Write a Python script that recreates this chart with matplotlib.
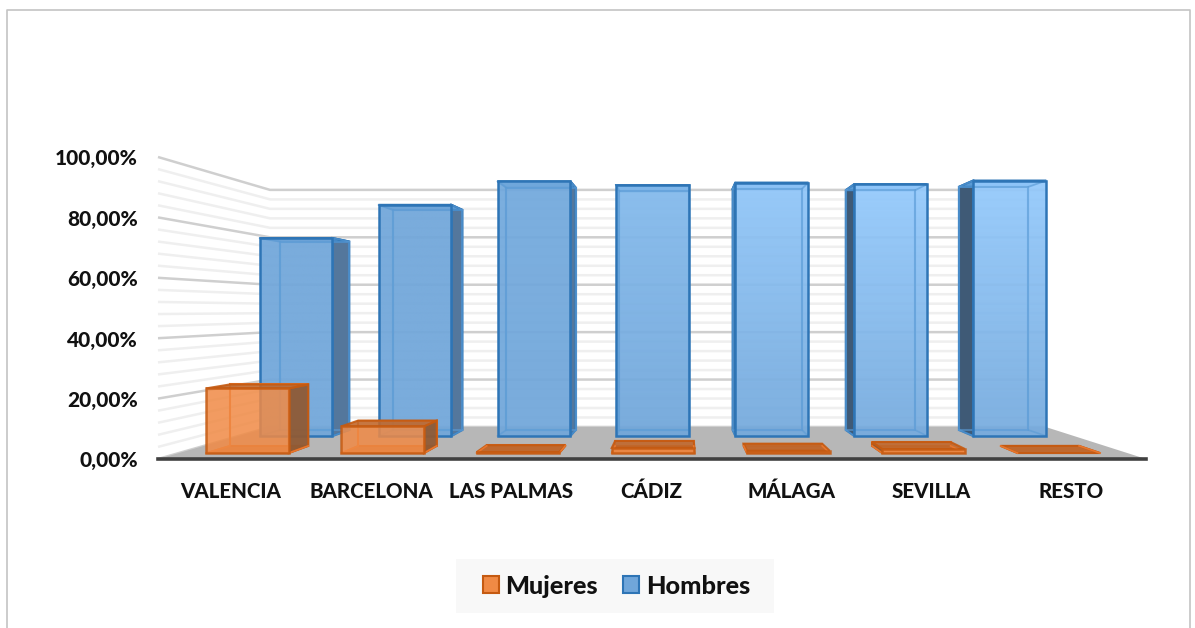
import matplotlib
matplotlib.use("Agg")
import matplotlib.pyplot as plt
from matplotlib.patches import Polygon, Rectangle, Patch
import numpy as np

plt.rcParams['font.family'] = ['Lato', 'DejaVu Sans']

categories = ["VALENCIA", "BARCELONA", "LAS PALMAS", "CÁDIZ", "MÁLAGA", "SEVILLA", "RESTO"]
hombres = [77.5, 90.5, 99.7, 98.2, 99.2, 98.6, 100.0]
mujeres = [22.3, 9.2, 0.3, 1.8, 0.8, 1.4, 0.0]
y_ticks = [0, 20, 40, 60, 80, 100]
y_labels = ["0,00%", "20,00%", "40,00%", "60,00%", "80,00%", "100,00%"]

# gradient of the blue fronts (top, bottom), lighter towards the right
blue_top = ["#70a6da", "#70a6da", "#72a9dd", "#82b9ec", "#90c6f9", "#93c9fc", "#93c9fc"]
blue_bottom = ["#70a6da", "#70a6da", "#70a6da", "#70a6da", "#74a9dc", "#76abde", "#76abde"]
blue_side = ["#54779c", "#54779c", "#54779c", "#54779c", "#3f5f80", "#3f5a76", "#3f5a76"]

# projection of the 3d box: vanishing point, floor and wall of the front plane
VX, VY = 679, 310
LEFT, RIGHT, BASE, TOP = 158, 1146, 459, 157
S_BACK = 0.785
SLOT = (RIGHT - LEFT) / len(categories)


def project(u, s, v):
    # u: pixels from the vanishing point at front plane, s: depth scale, v: percent
    front_y = BASE - (BASE - TOP) * v / 100
    return VX + u * s, VY + (front_y - VY) * s


def box(i, value, s_front, s_back, spread=1.0, shift=0.0, width=0.61):
    c = (LEFT + (i + 0.5) * SLOT - VX) * spread + shift
    ul, ur = c - width * SLOT / 2, c + width * SLOT / 2
    def face(*pts):
        return [project(*p) for p in pts]
    return {
        "back": face((ul, s_back, 0), (ur, s_back, 0), (ur, s_back, value), (ul, s_back, value)),
        "bottom": face((ul, s_front, 0), (ur, s_front, 0), (ur, s_back, 0), (ul, s_back, 0)),
        "top": face((ul, s_front, value), (ur, s_front, value), (ur, s_back, value), (ul, s_back, value)),
        "left": face((ul, s_front, 0), (ul, s_back, 0), (ul, s_back, value), (ul, s_front, value)),
        "right": face((ur, s_front, 0), (ur, s_back, 0), (ur, s_back, value), (ur, s_front, value)),
        "front": face((ul, s_front, 0), (ur, s_front, 0), (ur, s_front, value), (ul, s_front, value)),
        "ul": ul, "ur": ur,
    }


fig = plt.figure(figsize=(11.95, 6.28), dpi=100)
ax = fig.add_axes([0, 0, 1, 1])
ax.set_xlim(0, 1195)
ax.set_ylim(628, 0)
ax.axis("off")

# chart border
ax.plot([7, 7, 1190, 1190], [628, 10, 10, 628], color="#c4c4c4", lw=1.2, zorder=1)

# gridlines on side and back walls
for v in np.arange(0, 101, 4):
    major = v % 20 == 0
    col = "#cfcfcf" if major else "#efefef"
    lw = 1.8
    p0 = project(LEFT - VX, 1, v)
    p1 = project(LEFT - VX, S_BACK, v)
    p2 = project(RIGHT - VX, S_BACK, v)
    ax.plot([p0[0], p1[0], p2[0]], [p0[1], p1[1], p2[1]], color=col, lw=lw, zorder=2,
            solid_capstyle="butt")

# floor
floor = [project(LEFT - VX, 1, 0), project(RIGHT - VX, 1, 0),
         project(RIGHT - VX, S_BACK, 0), project(LEFT - VX, S_BACK, 0)]
ax.add_patch(Polygon(floor, closed=True, fc="#b7b7b7", ec="none", zorder=3))
ax.plot([LEFT, RIGHT], [BASE, BASE], color="#404040", lw=2.6, zorder=30)

z = 4
# blue row
for i, val in enumerate(hombres):
    b = box(i, val, 0.846, 0.805, spread=0.996, shift=-4)
    ax.add_patch(Polygon(b["back"], fc="none", ec="#5b9bd5", lw=1.5, zorder=z))
    if b["ur"] < 0:
        ax.add_patch(Polygon(b["right"], fc=blue_side[i], ec="#2e75b6", lw=1.5, zorder=z + 1))
    if b["ul"] > 0:
        ax.add_patch(Polygon(b["left"], fc=blue_side[i], ec="#2e75b6", lw=1.5, zorder=z + 1))
    ax.add_patch(Polygon(b["top"], fc="#5b9bd5", ec="#2e75b6", lw=1.5, zorder=z + 1))
    pts = np.array(b["front"])
    grad = np.array([matplotlib.colors.to_rgb(blue_top[i]), matplotlib.colors.to_rgb(blue_bottom[i])])
    grad = np.linspace(grad[0], grad[1], 64)[:, None, :]
    im = ax.imshow(grad, extent=[pts[:, 0].min(), pts[:, 0].max(), pts[:, 1].max(), pts[:, 1].min()],
                   aspect="auto", alpha=0.93, zorder=z + 2, interpolation="bilinear")
    clip = Polygon(b["front"], transform=ax.transData)
    im.set_clip_path(clip)
    ax.add_patch(Polygon(b["back"], fc="none", ec="#5b9bd5", lw=1.5, alpha=0.6, zorder=z + 2))
    for k in range(4):
        ax.plot([b["front"][k][0], b["back"][k][0]], [b["front"][k][1], b["back"][k][1]],
                color="#5b9bd5", lw=1.2, alpha=0.6, zorder=z + 2)
    ax.add_patch(Polygon(b["front"], fc="none", ec="#2e75b6", lw=1.8, zorder=z + 3))
ax.set_xlim(0, 1195)
ax.set_ylim(628, 0)

z = 12
# orange row
for i, val in enumerate(mujeres):
    b = box(i, val, 0.96, 0.912, spread=0.998, shift=0)
    ax.add_patch(Polygon(b["back"], fc="none", ec="#e8762d", lw=1.5, zorder=z))
    ax.add_patch(Polygon(b["bottom"], fc="#c05f1e", ec="#c55a11", lw=1.2, alpha=0.75, zorder=z))
    if b["ur"] < 0 and val > 0:
        ax.add_patch(Polygon(b["right"], fc="#8f5a35", ec="#c55a11", lw=1.5, alpha=0.95, zorder=z + 1))
    if b["ul"] > 0 and val > 0:
        ax.add_patch(Polygon(b["left"], fc="#8f5a35", ec="#c55a11", lw=1.5, alpha=0.95, zorder=z + 1))
    ax.add_patch(Polygon(b["top"], fc="#c0682d", ec="#c55a11", lw=1.5, alpha=0.9, zorder=z + 1))
    if val > 0:
        ax.add_patch(Polygon(b["front"], fc="#f08a45", ec="#c55a11", lw=1.8, alpha=0.85, zorder=z + 2))
    for k in range(2):
        ax.plot([b["front"][k][0], b["back"][k][0]], [b["front"][k][1], b["back"][k][1]],
                color="#e8762d", lw=1.2, zorder=z + 1)

# tick labels
for v, lab in zip(y_ticks, y_labels):
    x, y = project(LEFT - VX, 1, v)
    ax.text(138, y + 2, lab, ha="right", va="center", fontsize=15, fontweight=900, color="#111111")
for i, lab in enumerate(categories):
    x, _ = project((LEFT + (i + 0.5) * SLOT - VX) * 0.9925, 1, 0)
    ax.text(x - 1, 491.5, lab, ha="center", va="center", fontsize=14.8, fontweight=900, color="#111111")

# legend
ax.add_patch(Rectangle((456, 559), 318, 54, fc="#f8f8f8", ec="none", zorder=1))
handles = [Patch(fc="#f08a45", ec="#c55a11", lw=1.5, label="Mujeres"),
           Patch(fc="#70a6da", ec="#2e75b6", lw=1.5, label="Hombres")]
leg = ax.legend(handles=handles, ncol=2, loc="center", bbox_to_anchor=(616.5 / 1195, 1 - 586 / 628),
                frameon=False, prop={"weight": 900, "size": 18.2}, handlelength=0.62,
                handleheight=0.62, handletextpad=0.27, columnspacing=1.0)
for t in leg.get_texts():
    t.set_color("#111111")

plt.savefig("out.png", dpi=100)
